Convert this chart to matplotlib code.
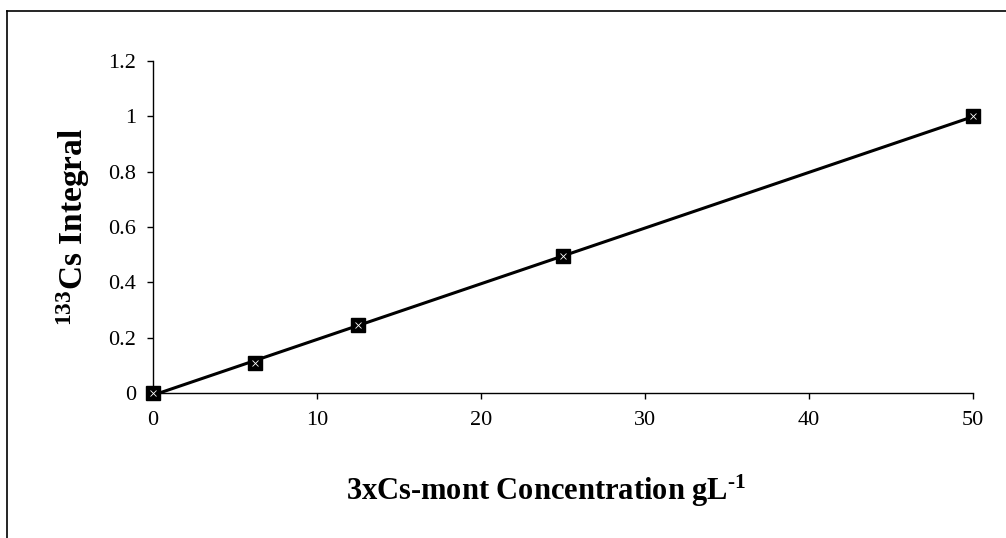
import numpy as np
import matplotlib
matplotlib.use("Agg")
import matplotlib.pyplot as plt
from matplotlib.lines import Line2D

# calibration points: 3xCs-mont concentration (g/L) vs 133Cs integral
conc = [0, 6.25, 12.5, 25, 50]
integral = [0, 0.108, 0.245, 0.495, 1.0]

xticks = [0, 10, 20, 30, 40, 50]
yticks = [0, 0.2, 0.4, 0.6, 0.8, 1.0, 1.2]
ytick_labels = ['0', '0.2', '0.4', '0.6', '0.8', '1', '1.2']

plt.rcParams['font.family'] = ['Liberation Serif', 'DejaVu Serif']
plt.rcParams['mathtext.fontset'] = 'custom'
# all math in this chart is bold superscripts
plt.rcParams['mathtext.rm'] = 'Liberation Serif:bold'
plt.rcParams['mathtext.it'] = 'Liberation Serif:bold'
plt.rcParams['mathtext.bf'] = 'Liberation Serif:bold'

fig = plt.figure(figsize=(10.06, 5.38), dpi=100)
ax = fig.add_axes([0.152, 0.2695, 0.815, 0.617])

# linear trend line through the points
coef = np.polyfit(conc, integral, 1)
xs = np.array([0, 50])
ax.plot(xs, np.polyval(coef, xs), color='black', lw=2.2, zorder=2, clip_on=False)

ax.plot(conc, integral, linestyle='none', marker='s', markersize=10,
        markerfacecolor='black', markeredgecolor='black', zorder=3, clip_on=False)
ax.plot(conc, integral, linestyle='none', marker='x', markersize=4,
        markeredgecolor='white', markeredgewidth=0.6, zorder=4, clip_on=False)

ax.set_xlim(0, 50)
ax.set_ylim(0, 1.2)
ax.set_xticks(xticks)
ax.set_yticks(yticks)
ax.set_yticklabels(ytick_labels)
ax.tick_params(axis='both', direction='out', length=4, width=1, labelsize=16)
ax.tick_params(axis='x', pad=9)
ax.tick_params(axis='y', pad=8)

for s in ['top', 'right']:
    ax.spines[s].set_visible(False)
for s in ['left', 'bottom']:
    ax.spines[s].set_linewidth(1.0)

ax.set_xlabel(r'3xCs-mont Concentration gL$^{\text{-}1}$', fontsize=22,
              fontweight='bold')
ax.xaxis.set_label_coords(0.48, -0.24)
ax.set_ylabel(r'$^{133}$Cs Integral', fontsize=24,
              fontweight='bold', labelpad=12)

# outer frame (left and top edges)
fig.add_artist(Line2D([0.007, 1.0], [0.98, 0.98], color='black', lw=1.2))
fig.add_artist(Line2D([0.007, 0.007], [0.0, 0.98], color='black', lw=1.2))

fig.savefig('out.png', dpi=100)
